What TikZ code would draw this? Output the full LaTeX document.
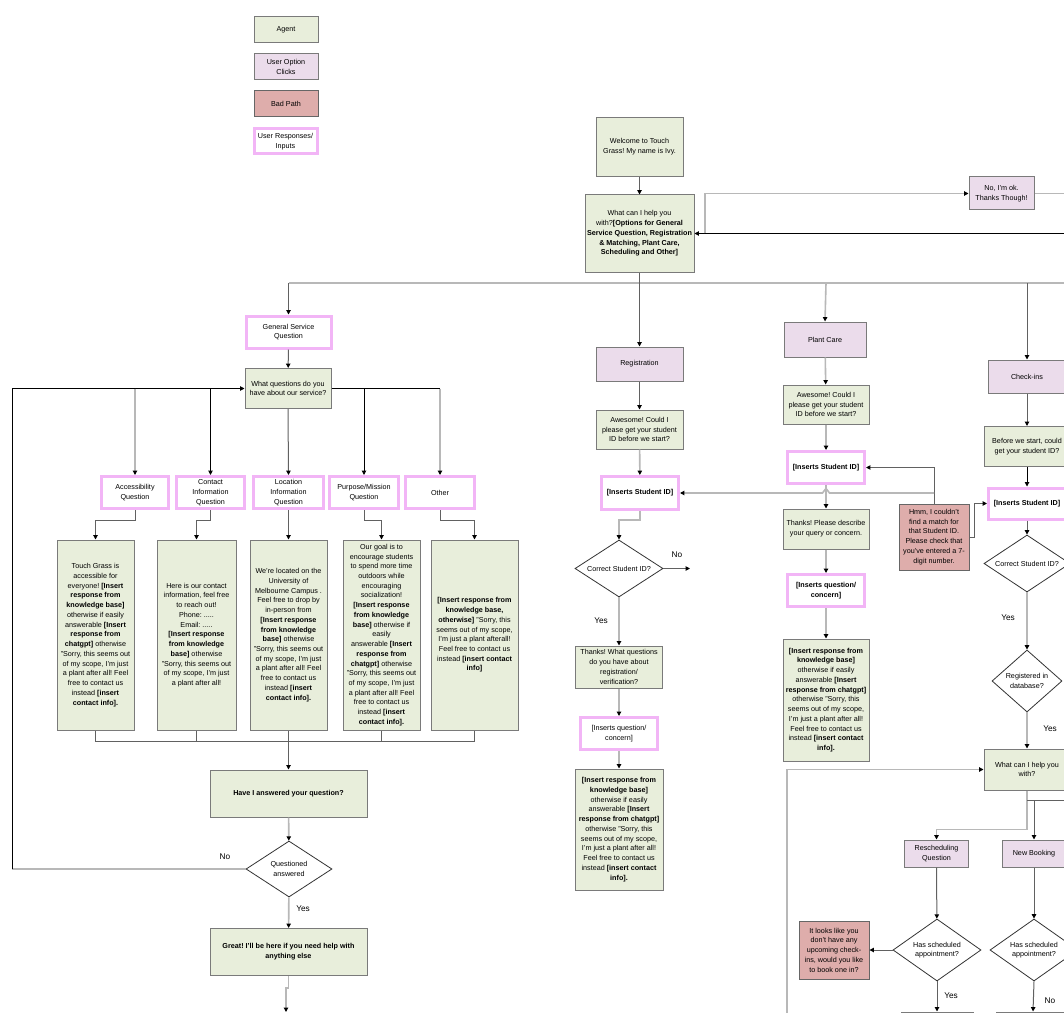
\documentclass[tikz,border=0pt]{standalone}
\usepackage{fontspec}
\setmainfont{Liberation Sans}
\usetikzlibrary{arrows.meta,shapes.geometric}
\definecolor{agentF}{HTML}{E8EEDB}
\definecolor{optF}{HTML}{EBDCEB}
\definecolor{badF}{HTML}{DEADAB}
\definecolor{pinkB}{HTML}{F2B5F6}
\definecolor{boxB}{HTML}{7A7A7A}
\tikzset{
  sz/.style 2 args={minimum width=#1*0.75pt, minimum height=#2*0.75pt},
  base/.style={font=\fontsize{5.4}{7.3}\selectfont, align=center, inner sep=1pt},
  agent/.style={base, draw=boxB, fill=agentF, line width=0.75pt},
  opt/.style={base, draw=boxB, fill=optF, line width=0.75pt},
  bad/.style={base, draw=black!60, fill=badF, line width=0.75pt},
  resp/.style={base, draw=pinkB, fill=white, line width=2.25pt},
  dia/.style={base, diamond, draw=black!80, fill=white, line width=0.6pt, inner sep=0pt},
  cb/.style={draw=black, line width=0.7pt},
  cd/.style={draw=black!62, line width=0.75pt},
  cl/.style={draw=black!28, line width=1.2pt},
  lbl/.style={font=\fontsize{6.2}{7.5}\selectfont, inner sep=0pt},
  >={Triangle[length=3.3pt,width=3.3pt,color=black]}
}
\begin{document}
\frenchspacing
\begin{tikzpicture}[x=0.75pt,y=-0.75pt]
\useasboundingbox (0,0) rectangle (1064,1013);
\fill[white] (0,0) rectangle (1064,1013);
\clip (0,0) rectangle (1064,1013);

% Legend
\node[agent, sz={64}{26}] (lgA) at (286,30) {Agent};
\node[opt, sz={64}{26}] (lgO) at (286,67) {User Option\\Clicks};
\node[bad, sz={64}{26}] (lgB) at (286,104) {Bad Path};
\node[resp, sz={63}{25}] (lgR) at (285.5,141.5) {User Responses/\\Inputs};

% Top
\node[agent, sz={87}{59}] (wel) at (639.5,147) {Welcome to Touch\\Grass! My name is Ivy.};
\node[agent, sz={109}{77}] (what) at (639.5,233.5) {What can I help you\\with?\textbf{[Options for General}\\\textbf{Service Question, Registration}\\\textbf{\& Matching, Plant Care,}\\\textbf{Scheduling and Other]}};
\node[opt, sz={65}{33}] (nob) at (1001.5,193.5) {No, I'm ok.\\Thanks Though!};

% General service
\node[resp, sz={85}{32}] (gsq) at (288.5,332) {General Service\\Question};
\node[agent, sz={86}{40}] (wq) at (288,388.5) {What questions do you\\have about our service?};
\node[resp, sz={67}{32}] (acc) at (135,492.5) {Accessibility\\Question};
\node[resp, sz={68}{32}] (con) at (210.5,492.5) {Contact\\Information\\Question};
\node[resp, sz={70}{32}] (loc) at (288.5,492.5) {Location\\Information\\Question};
\node[resp, sz={69}{32}] (pur) at (364,492.5) {Purpose/Mission\\Question};
\node[resp, sz={69}{32}] (oth) at (440,492.5) {Other};

\node[agent, sz={77}{190}] (t1) at (95.5,635) {Touch Grass is\\accessible for\\everyone! \textbf{[Insert}\\\textbf{response from}\\\textbf{knowledge base]}\\otherwise if easily\\answerable \textbf{[Insert}\\\textbf{response from}\\\textbf{chatgpt]} otherwise\\"Sorry, this seems out\\of my scope, I'm just\\a plant after all! Feel\\free to contact us\\instead \textbf{[insert}\\\textbf{contact info].}};
\node[agent, sz={79}{190}] (t2) at (196.5,635) {Here is our contact\\information, feel free\\to reach out!\\Phone: .....\\Email: .....\\\textbf{[Insert response}\\\textbf{from knowledge}\\\textbf{base]} otherwise\\"Sorry, this seems out\\of my scope, I'm just\\a plant after all!};
\node[agent, sz={77}{190}] (t3) at (288.5,635) {We're located on the\\University of\\Melbourne Campus .\\Feel free to drop by\\in-person from\\\textbf{[Insert response}\\\textbf{from knowledge}\\\textbf{base]} otherwise\\"Sorry, this seems out\\of my scope, I'm just\\a plant after all! Feel\\free to contact us\\instead \textbf{[insert}\\\textbf{contact info].}};
\node[agent, sz={77}{190}] (t4) at (381.5,635) {Our goal is to\\encourage students\\to spend more time\\outdoors while\\encouraging\\socialization!\\\textbf{[Insert response}\\\textbf{from knowledge}\\\textbf{base]} otherwise if\\easily\\answerable \textbf{[Insert}\\\textbf{response from}\\\textbf{chatgpt]} otherwise\\"Sorry, this seems out\\of my scope, I'm just\\a plant after all! Feel\\free to contact us\\instead \textbf{[insert}\\\textbf{contact info].}};
\node[agent, sz={87}{190}] (t5) at (474.5,635) {\textbf{[Insert response from}\\\textbf{knowledge base,}\\\textbf{otherwise]} "Sorry, this\\seems out of my scope,\\I'm just a plant afterall!\\Feel free to contact us\\instead \textbf{[insert contact}\\\textbf{info]}};

\node[agent, sz={157}{47}] (have) at (288.5,793.5) {\textbf{Have I answered your question?}};
\node[dia, sz={86}{56}, aspect=1.54] (qa) at (289,869) {Questioned\\answered};
\node[agent, sz={157}{47}] (great) at (288.5,952) {\textbf{Great! I'll be here if you need help with}\\\textbf{anything else}};

% Registration
\node[opt, sz={87}{34}] (reg) at (639.5,364) {Registration};
\node[agent, sz={87}{39}] (rawe) at (639.5,429.5) {Awesome! Could I\\please get your student\\ID before we start?};
\node[resp, sz={77}{33}] (rid) at (640,493) {\textbf{[Inserts Student ID]}};
\node[dia, sz={88}{57}, aspect=1.54] (rdia) at (619,568.5) {Correct Student ID?};
\node[agent, sz={87}{42}] (rth) at (619,667) {Thanks! What questions\\do you have about\\registration/\\verification?};
\node[resp, sz={77}{32}] (rq) at (619,733.5) {[Inserts question/\\concern]};
\node[agent, sz={88}{121}] (rresp) at (619,829.5) {\textbf{[Insert response from}\\\textbf{knowledge base]}\\otherwise if easily\\answerable \textbf{[Insert}\\\textbf{response from chatgpt]}\\otherwise "Sorry, this\\seems out of my scope,\\I'm just a plant after all!\\Feel free to contact us\\instead \textbf{[insert contact}\\\textbf{info].}};

% Plant care
\node[opt, sz={82}{35}] (pc) at (825,339.5) {Plant Care};
\node[agent, sz={86}{39}] (pawe) at (826,404.5) {Awesome! Could I\\please get your student\\ID before we start?};
\node[resp, sz={77}{32}] (pid) at (826,467.5) {\textbf{[Inserts Student ID]}};
\node[agent, sz={86}{40}] (pth) at (826,529) {Thanks! Please describe\\your query or concern.};
\node[resp, sz={77}{32}] (pq) at (826,590.5) {\textbf{[Inserts question/}\\\textbf{concern]}};
\node[agent, sz={86}{122}] (presp) at (826,700) {\textbf{[Insert response from}\\\textbf{knowledge base]}\\otherwise if easily\\answerable \textbf{[Insert}\\\textbf{response from chatgpt]}\\otherwise "Sorry, this\\seems out of my scope,\\I'm just a plant after all!\\Feel free to contact us\\instead \textbf{[insert contact}\\\textbf{info].}};

\node[bad, sz={70}{66}] (red1) at (934,537) {Hmm, I couldn't\\find a match for\\that Student ID.\\Please check that\\you've entered a 7-\\digit number.};

% Check-ins
\node[opt, sz={78}{33}] (ci) at (1027,376.5) {Check-ins};
\node[agent, sz={86}{40}] (cbf) at (1027,446.5) {Before we start, could\\get your student ID?};
\node[resp, sz={77}{31}] (cid) at (1027,503.5) {\textbf{[Inserts Student ID]}};
\node[dia, sz={86}{57}, aspect=1.5] (cdia) at (1027,563.5) {Correct Student ID?};
\node[dia, sz={70}{62}, aspect=1.13] (creg) at (1027,681) {Registered in\\database?};
\node[agent, sz={86}{41}] (cwh) at (1027,769.5) {What can I help you\\with?};
\node[opt, sz={64}{27}] (resch) at (936.5,853.5) {Rescheduling\\Question};
\node[opt, sz={63}{27}] (nb) at (1034,853.5) {New Booking};
\node[dia, sz={88}{62}, aspect=1.42] (hd1) at (937,950) {Has scheduled\\appointment?};
\node[dia, sz={88}{62}, aspect=1.42] (hd2) at (1034,950) {Has scheduled\\appointment?};
\node[bad, sz={70}{58}] (red2) at (834,950) {It looks like you\\don't have any\\upcoming check-\\ins, would you like\\to book one in?};
\node[agent, sz={72}{36}] (bot1) at (937,1030) {};
\node[agent, sz={74}{36}] (bot2) at (1033,1030) {};

% coordinates
\coordinate (busL) at (288.5,283);
\coordinate (busR) at (1064,283);
\coordinate (busW) at (639.5,283);
\coordinate (busP) at (826,283);
\coordinate (busC) at (1027,283);
\coordinate (tR) at (1064,233.5);
\coordinate (tJ) at (705,233.5);
\coordinate (tR2) at (1064,193.5);
\coordinate (lpA) at (12,869);
\coordinate (lpB) at (12,388.5);
\coordinate (bA) at (135,388.5);
\coordinate (bC) at (210.5,388.5);
\coordinate (bP) at (364,388.5);
\coordinate (bO) at (440,388.5);
\coordinate (mL) at (95.5,741);
\coordinate (mR) at (474.5,741);
\coordinate (gEnd) at (286,1012);
\coordinate (rNo) at (690,568.5);
\coordinate (hj) at (934,493);
\coordinate (lpC) at (787,1013);
\coordinate (nbJ) at (1027,800);
\coordinate (nbR) at (1064,800);
\coordinate (nbK) at (1034,800);

% top connectors
\draw[cd,->] (wel) -- (what);
\draw[cl] (busL) -- (busR);
\draw[cd] (what.south) -- (busW);
\draw[cd,->] (busL) -- (gsq.north);
\draw[cd,->] (busW) -- (reg.north);
\draw[cl,->] (busP) -- (pc.north);
\draw[cd,->] (busC) -- (ci.north);
\draw[cb,->] (tR) -- (what.east);
\draw[cl,->] (tJ) |- (nob.west);
\draw[cl] (nob.east) -- (tR2);

% general service
\draw[cd,->] (gsq) -- (wq);
\draw[cl] (qa.west) -- (lpA);
\draw[cb,->] (lpA) -- (lpB) -- (wq.west);
\draw[cl,->] (bA) -- (acc.north);
\draw[cb,->] (bC) -- (con.north);
\draw[cd,->] (wq.south) -- (loc.north);
\draw[cb] (wq.east) -- (bO);
\draw[cb,->] (bP) -- (pur.north);
\draw[cl,->] (bO) -- (oth.north);
\draw[cd,->] (acc.south) -- ++(0,10) -| (t1.north);
\draw[cd,->] (con.south) -- ++(0,10) -| (t2.north);
\draw[cd,->] (loc.south) -- (t3.north);
\draw[cd,->] (pur.south) -- ++(0,10) -| (t4.north);
\draw[cd,->] (oth.south) -- ++(0,10) -| (t5.north);
\draw[cd] (t1.south) -- (mL) -- (mR) -- (t5.south);
\draw[cd] (t2.south) -- (t2.south |- mL);
\draw[cd] (t4.south) -- (t4.south |- mL);
\draw[cd,->] (t3.south) -- (have.north);
\draw[cl,->] (have) -- (qa);
\draw[cl,->] (qa) -- (great);
\draw[cl,->] (great.south) -- ++(0,12) -| (gEnd);
\node[lbl] (lNo1) at (225,857) {No};
\node[lbl] (lYes1) at (303,908.5) {Yes};

% registration
\draw[cd,->] (reg) -- (rawe);
\draw[cl,->] (rawe) -- (rid);
\draw[cl,->] (rid.south) -- ++(0,9) -| (rdia.north);
\draw[cd,->] (rdia.east) -- (rNo);
\draw[cl,->] (rdia) -- (rth);
\draw[cl,->] (rth) -- (rq);
\draw[cl,->] (rq) -- (rresp);
\node[lbl] (lNo2) at (677,555) {No};
\node[lbl] (lYes2) at (601,621) {Yes};

% plant care
\draw[cl,->] (pc) -- (pawe);
\draw[cl,->] (pawe) -- (pid);
\draw[cl,->] (pid) -- (pth);
\draw[cl,->] (pth) -- (pq);
\draw[cl,->] (pq) -- (presp);
\draw[cd,->] (red1.north) |- (pid.east);
\draw[cl,->] (hj) -- (829.5,493) -- (826,488.5) -- (822.5,493) -- (rid.east);
\draw[cd,->] (red1.east) -- ++(5,0) |- (cid.west);

% check-ins
\draw[cd,->] (ci) -- (cbf);
\draw[cb,->] (cbf) -- (cid);
\draw[cd,->] (cid) -- (cdia);
\draw[cl,->] (cdia) -- (creg);
\draw[cl,->] (creg) -- (cwh);
\node[lbl] (lYes3) at (1008,618) {Yes};
\node[lbl] (lYes4) at (1050,729) {Yes};
\draw[cl,->] (lpC) -- (787,769.5) -- (cwh.west);
\draw[cl,->] (cwh.south) -- ++(0,39) -| (resch.north);
\draw[cd] (nbJ) -- (nbR);
\draw[cd,->] (nbK) -- (nb.north);
\draw[cd,->] (resch) -- (hd1);
\draw[cd,->] (nb) -- (hd2);
\draw[cd,->] (hd1.west) -- (red2.east);
\draw[cd,->] (hd1.south) -- (bot1.north);
\draw[cd,->] (hd2.south) -- (bot2.north);
\node[lbl] (lYes5) at (951,996) {Yes};
\node[lbl] (lNo5) at (1050,1001) {No};
\end{tikzpicture}
\end{document}
